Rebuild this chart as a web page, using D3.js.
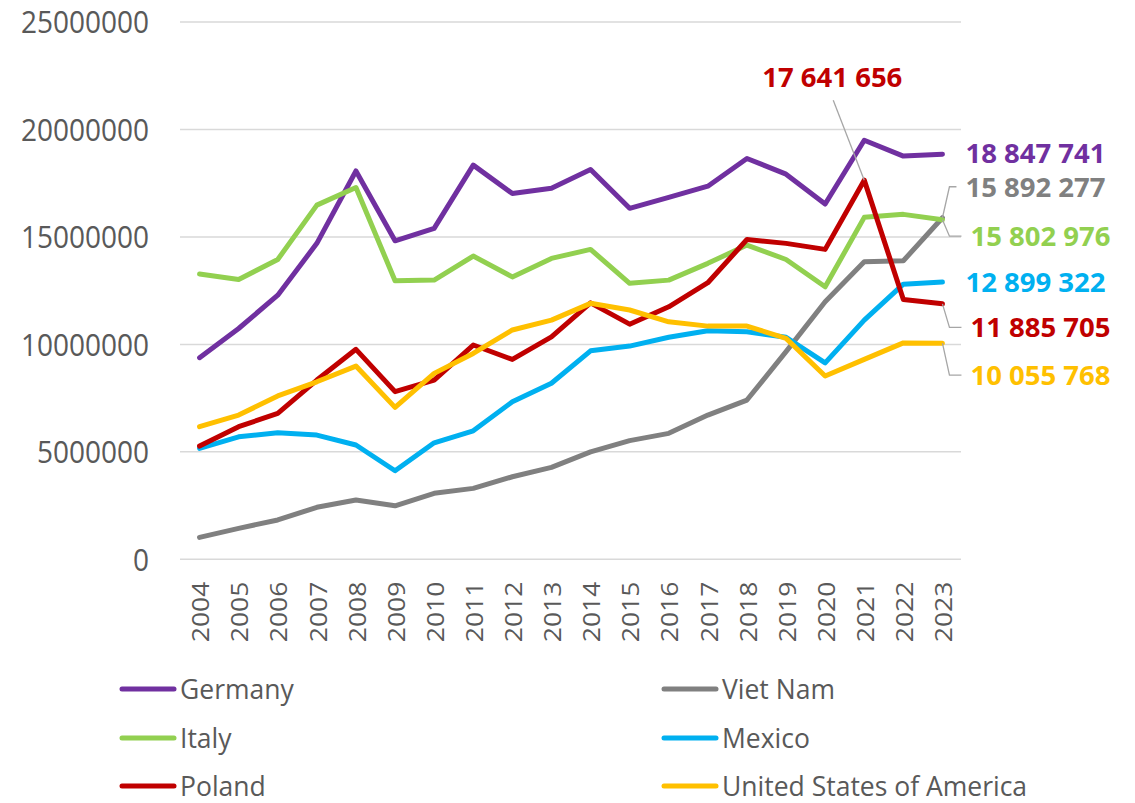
<!DOCTYPE html>
<html>
<head>
<meta charset="utf-8">
<script src="https://cdn.jsdelivr.net/npm/d3@7"></script>
<style>
  html, body { margin: 0; padding: 0; background: #fff; }
  svg { display: block; font-family: "Open Sans", sans-serif; }
</style>
</head>
<body>
<svg id="chart" width="1135" height="803"></svg>
<script>
const years = ["2004","2005","2006","2007","2008","2009","2010","2011","2012","2013","2014","2015","2016","2017","2018","2019","2020","2021","2022","2023"];
const yTicks = [0, 5000000, 10000000, 15000000, 20000000, 25000000];

const germany = [9380000, 10740000, 12290000, 14700000, 18070000, 14820000, 15400000, 18340000, 17020000, 17260000, 18140000, 16330000, 16840000, 17360000, 18650000, 17920000, 16530000, 19500000, 18760000, 18847741];
const vietNam = [1020000, 1440000, 1830000, 2420000, 2760000, 2490000, 3070000, 3300000, 3840000, 4280000, 5000000, 5520000, 5860000, 6710000, 7410000, 9660000, 11980000, 13840000, 13890000, 15892277];
const italy = [13270000, 13020000, 13950000, 16480000, 17300000, 12960000, 12990000, 14110000, 13140000, 14000000, 14420000, 12840000, 12990000, 13770000, 14620000, 13950000, 12680000, 15910000, 16050000, 15802976];
const mexico = [5160000, 5700000, 5890000, 5780000, 5320000, 4120000, 5420000, 5980000, 7330000, 8190000, 9700000, 9920000, 10330000, 10630000, 10590000, 10330000, 9140000, 11130000, 12800000, 12899322];
const poland = [5270000, 6170000, 6790000, 8340000, 9770000, 7800000, 8340000, 9970000, 9300000, 10350000, 11930000, 10940000, 11750000, 12870000, 14880000, 14700000, 14420000, 17641656, 12090000, 11885705];
const usa = [6170000, 6710000, 7600000, 8260000, 8990000, 7070000, 8650000, 9580000, 10670000, 11130000, 11910000, 11600000, 11050000, 10850000, 10850000, 10280000, 8530000, 9300000, 10070000, 10055768];

const seriesNames = ["Germany", "Viet Nam", "Italy", "Mexico", "Poland", "United States of America"];
const seriesValues = [germany, vietNam, italy, mexico, poland, usa];
const seriesColors = ["#7030A0", "#808080", "#92D050", "#00B0F0", "#C00000", "#FFC000"];

// Labelled points: series index, year index, label offset, leader style
const annotations = [
  { s: 0, i: 19, dx: 23, dy: -1, leader: null },
  { s: 1, i: 19, dx: 23, dy: -31, leader: "elbow" },
  { s: 2, i: 19, dx: 28, dy: 16.5, leader: "elbow" },
  { s: 3, i: 19, dx: 23, dy: 0, leader: null },
  { s: 4, i: 19, dx: 28, dy: 23.5, leader: "elbow" },
  { s: 5, i: 19, dx: 28, dy: 32, leader: "elbow" },
  { s: 4, i: 17, dx: -102, dy: -103, leader: "straight" }
];

const svg = d3.select("#chart");
const textColor = "#595959";

const x = d3.scaleBand().domain(years).range([180, 962]);
const y = d3.scaleLinear().domain([0, 25000000]).range([559.3, 22]);
const cx = d => x(d) + x.bandwidth() / 2;

// gridlines
svg.append("g").selectAll("line").data(yTicks).join("line")
  .attr("x1", 180).attr("x2", 961)
  .attr("y1", d => y(d)).attr("y2", d => y(d))
  .attr("stroke", "#d9d9d9").attr("stroke-width", 1.5);

// y axis
const yAxis = svg.append("g").attr("transform", "translate(180,0)")
  .call(d3.axisLeft(y).tickValues(yTicks).tickSize(0).tickPadding(31).tickFormat(d3.format("d")));
yAxis.select(".domain").remove();
yAxis.selectAll("text")
  .attr("fill", textColor).style("font-size", "28px")
  .style("font-family", "'Open Sans', sans-serif")
  .attr("dy", "0.36em")
  .attr("transform", "scale(1,1.08)");

// x axis
const xAxis = svg.append("g").attr("transform", `translate(0,${y(0)})`)
  .call(d3.axisBottom(x).tickSize(0));
xAxis.select(".domain").remove();
xAxis.selectAll("text")
  .attr("fill", textColor).style("font-size", "23px")
  .style("font-family", "'Open Sans', sans-serif")
  .attr("text-anchor", "end")
  .attr("x", -19.5).attr("y", 0).attr("dy", "0.42em")
  .attr("transform", "rotate(-90) scale(1.15,1)");

// lines
const line = d3.line().x((d, i) => cx(years[i])).y(d => y(d));
svg.append("g").selectAll("path").data(seriesValues).join("path")
  .attr("d", d => line(d))
  .attr("fill", "none")
  .attr("stroke", (d, i) => seriesColors[i])
  .attr("stroke-width", 5)
  .attr("stroke-linejoin", "round")
  .attr("stroke-linecap", "round");

// annotations
const fmt = v => d3.format(",")(v).replace(/,/g, " ");
const ag = svg.append("g");
annotations.forEach(a => {
  const v = seriesValues[a.s][a.i];
  const px = cx(years[a.i]);
  const py = y(v);
  const lx = px + a.dx;
  const ly = py + a.dy;
  if (a.leader === "elbow") {
    ag.append("polyline")
      .attr("points", [[px, py], [px + 7, ly], [lx - 9, ly]].map(p => p.join(",")).join(" "))
      .attr("fill", "none").attr("stroke", "#a6a6a6").attr("stroke-width", 1.3);
  } else if (a.leader === "straight") {
    ag.append("line")
      .attr("x1", px - 31).attr("y1", ly + 23)
      .attr("x2", px).attr("y2", py)
      .attr("stroke", "#a6a6a6").attr("stroke-width", 1.3);
  }
  ag.append("text")
    .attr("x", lx).attr("y", ly).attr("dy", "0.36em")
    .attr("fill", seriesColors[a.s])
    .style("font-size", "27.5px").style("font-weight", "bold")
    .text(fmt(v));
});

// legend
const legendCols = [120, 662];
const legendRows = [689, 738, 786];
const lg = svg.append("g");
seriesNames.forEach((name, i) => {
  const lx = legendCols[i % 2];
  const ly = legendRows[Math.floor(i / 2)];
  lg.append("line")
    .attr("x1", lx + 2).attr("x2", lx + 54)
    .attr("y1", ly).attr("y2", ly)
    .attr("stroke", seriesColors[i]).attr("stroke-width", 5).attr("stroke-linecap", "round");
  lg.append("text")
    .attr("transform", `translate(${lx + 60},${ly})`)
    .attr("dy", "0.36em")
    .attr("fill", textColor).style("font-size", "26.5px")
    .text(name);
});
</script>
</body>
</html>
